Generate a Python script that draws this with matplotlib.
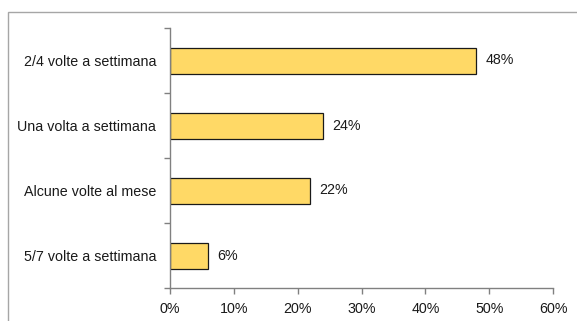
import matplotlib.pyplot as plt
from matplotlib.patches import Rectangle
from matplotlib.ticker import FixedLocator, FuncFormatter

plt.rcParams['font.family'] = ['Liberation Sans', 'DejaVu Sans']

categories = ["2/4 volte a settimana", "Una volta a settimana",
              "Alcune volte al mese", "5/7 volte a settimana"]
values = [48, 24, 22, 6]
x_ticks = [0, 10, 20, 30, 40, 50, 60]

fs = 10.3

fig = plt.figure(figsize=(5.77, 3.21), dpi=100)

# outer chart frame (runs off the right and bottom edges)
fig.patches.append(Rectangle((8 / 577, -0.1), 1.2, 1 - 12 / 321 + 0.1,
                             transform=fig.transFigure, fill=False,
                             edgecolor='#a6a6a6', linewidth=1.0))

ax = fig.add_axes([170 / 577, 1 - 288 / 321, 383 / 577, 260 / 321])

pos = list(range(len(categories)))
ax.barh(pos, values, height=0.4, color='#ffd966', edgecolor='#1a1a1a',
        linewidth=0.9)

for p, v in zip(pos, values):
    ax.text(v + 1.4, p, f"{v}%", va='center', ha='left', fontsize=fs,
            color='#1a1a1a')

ax.set_xlim(0, 60)
ax.set_ylim(len(categories) - 0.5, -0.5)
ax.xaxis.set_major_locator(FixedLocator(x_ticks))
ax.xaxis.set_major_formatter(FuncFormatter(lambda v, _: f"{v:.0f}%"))

# labels centred on bars, tick marks on category boundaries
ax.set_yticks(pos)
ax.set_yticklabels(categories)
ax.set_yticks([i - 0.5 for i in range(len(categories) + 1)], minor=True)
ax.tick_params(axis='y', which='major', length=0, pad=10, labelsize=fs,
               labelcolor='#1a1a1a')
ax.tick_params(axis='y', which='minor', length=4, color='#808080', width=1)
ax.tick_params(axis='x', length=4, color='#808080', width=1, labelsize=fs,
               labelcolor='#1a1a1a', pad=6)

for side in ('top', 'right'):
    ax.spines[side].set_visible(False)
for side in ('left', 'bottom'):
    ax.spines[side].set_color('#808080')
    ax.spines[side].set_linewidth(1)

fig.savefig('out.png', dpi=100)
